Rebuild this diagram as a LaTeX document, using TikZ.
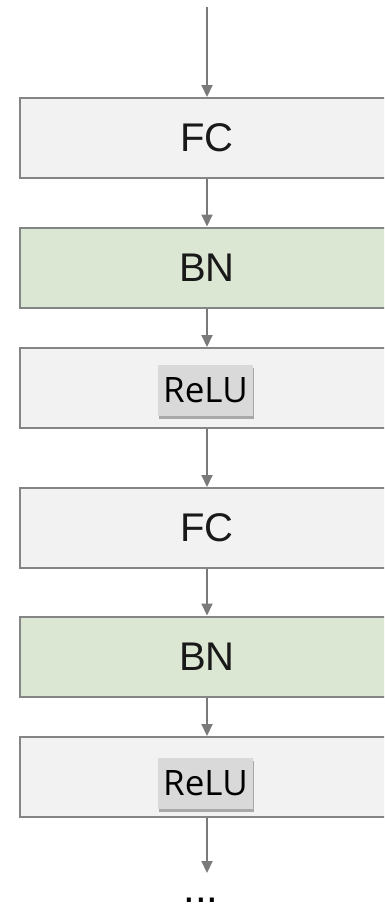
\documentclass[tikz,border=0pt]{standalone}
\usepackage{fontspec}
\setmainfont{Liberation Sans}
\newfontfamily\relufont{Open Sans}
\usetikzlibrary{arrows.meta,shadows}
\definecolor{boxgray}{HTML}{F2F2F2}
\definecolor{boxgreen}{HTML}{DCE7D3}
\definecolor{edgegray}{HTML}{858585}
\definecolor{arrowgray}{HTML}{7A7A7A}
\definecolor{relugray}{HTML}{D9D9D9}
\tikzset{
  layer/.style={draw=edgegray, line width=2pt, fill=boxgray, minimum width=375pt, minimum height=80pt,
    inner sep=0pt, font=\fontsize{40}{48}\selectfont, text=black!90},
  bnlayer/.style={layer, fill=boxgreen},
  relutag/.style={fill=relugray, minimum width=95pt, minimum height=51pt, inner sep=0pt,
    font=\relufont\fontsize{35}{42}\selectfont, text=black,
    drop shadow={shadow xshift=1pt, shadow yshift=-3pt, opacity=0.3, fill=black}},
  flow/.style={draw=arrowgray, line width=2pt, -{Triangle[width=11pt,length=12pt]}}
}
\begin{document}
\begin{tikzpicture}[x=1pt,y=-1pt]
\useasboundingbox (0,0) rectangle (384,907);
\clip (0,0) rectangle (384,907);
\coordinate (in) at (207,7);
\node[layer] (fc1) at (207,138) {FC};
\node[bnlayer] (bn1) at (207,267.5) {BN};
\node[layer] (relu1) at (207,388) {};
\node[relutag] (r1) at (205.5,390.5) {ReLU};
\node[layer] (fc2) at (207,528) {FC};
\node[bnlayer] (bn2) at (207,656.5) {BN};
\node[layer] (relu2) at (207,777) {};
\node[relutag] (r2) at (205.5,783.5) {ReLU};
\coordinate (out) at (207,873);
\node[anchor=base, font=\fontsize{42}{46}\selectfont, inner sep=0pt] (dots) at (201,902) {...};
\draw[flow] (in) -- (fc1.north);
\draw[flow] (fc1.south) -- (bn1.north);
\draw[flow] (bn1.south) -- (relu1.north);
\draw[flow] (relu1.south) -- (fc2.north);
\draw[flow] (fc2.south) -- (bn2.north);
\draw[flow] (bn2.south) -- (relu2.north);
\draw[flow] (relu2.south) -- (out);
\end{tikzpicture}
\end{document}
